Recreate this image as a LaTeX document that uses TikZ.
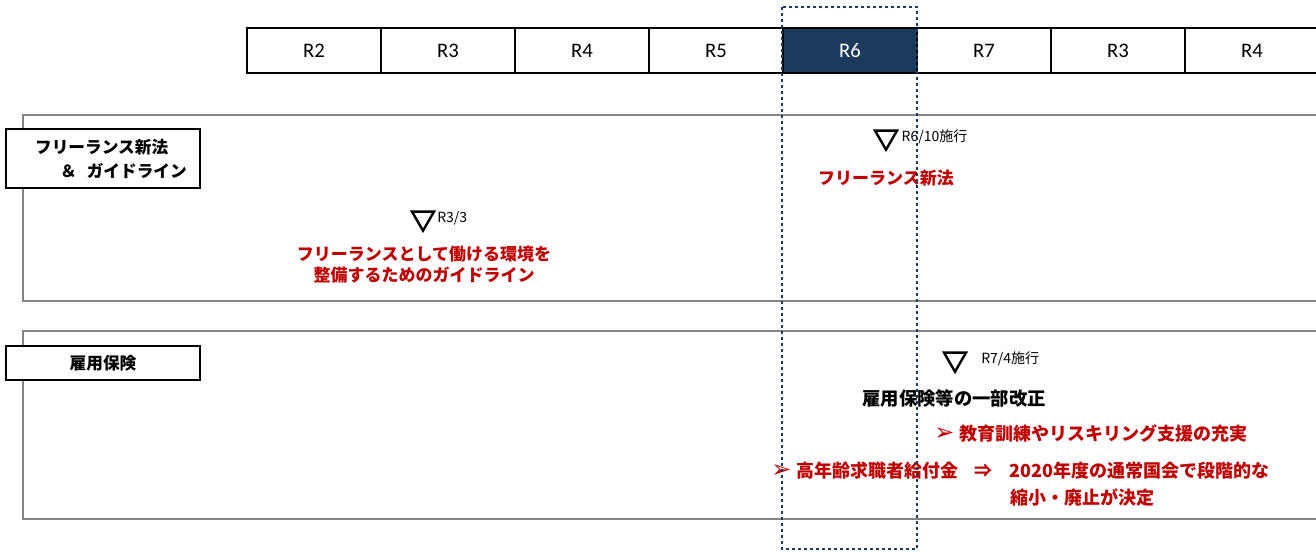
\documentclass[tikz,border=0pt]{standalone}
\usepackage{fontspec}
\setmainfont{Noto Sans CJK JP}
\newfontfamily\yearfont{Carlito}
\newfontfamily\markfont{DejaVu Sans}
\usetikzlibrary{
    shapes.geometric,
    positioning
}
\definecolor{navy}{HTML}{1B3A5C}
\definecolor{notered}{HTML}{C00000}
\definecolor{framegray}{HTML}{858585}
\tikzset{
    yearbox/.style = {
        rectangle,
        draw,
        line width=2pt,
        minimum width=100.5pt,
        minimum height=33.75pt,
        inner sep=0pt,
        font=\yearfont\fontsize{15.5}{18}\selectfont
    },
    nowbox/.style = {
        yearbox,
        fill=navy,
        text=white
    },
    sectionframe/.style = {
        draw=framegray,
        line width=2.2pt
    },
    labelbox/.style = {
        rectangle,
        draw,
        fill=white,
        line width=1.2pt,
        minimum width=145.5pt,
        inner sep=0pt,
        font=\bfseries\fontsize{12.5}{18}\selectfont
    },
    milestone/.style = {
        regular polygon,
        regular polygon sides=3,
        shape border rotate=180,
        draw,
        line width=1.8pt,
        minimum size=19pt,
        inner sep=0pt
    },
    datelabel/.style = {
        font=\fontsize{10.5}{12}\selectfont,
        inner sep=1pt
    },
    rednote/.style = {
        text=notered,
        inner sep=0pt,
        align=center,
        font=\bfseries\fontsize{12.75}{15.75}\selectfont
    },
    bignote/.style = {
        rednote,
        font=\bfseries\fontsize{13.5}{20}\selectfont
    },
    focusframe/.style = {
        draw=navy,
        line width=1.8pt,
        dash pattern=on 2.2pt off 2.3pt
    }
}
\newcommand{\pointer}{{\markfont\mdseries\fontsize{18}{18}\selectfont ➢}}

\begin{document}
\begin{tikzpicture}[x=0.75pt, y=-0.75pt]
\useasboundingbox (0,0) rectangle (1316,551);

% fiscal years
\foreach \yr/\sty [count=\i] in {R2/yearbox, R3/yearbox, R4/yearbox, R5/yearbox,
    R6/nowbox, R7/yearbox, R3/yearbox, R4/yearbox}
    \node[\sty] (year\i) at ({180+134*\i},50.5) {\yr};

% section frames
\draw[sectionframe] (1330,115) -- (23,115) -- (23,301) -- (1330,301);
\draw[sectionframe] (1330,331) -- (23,331) -- (23,519) -- (1330,519);

\node[labelbox, minimum height=44.25pt, align=left] (lawlabel) at (103,158.5)
    {\hspace*{12pt}フリーランス新法\\\hspace*{12pt}\hspace*{1.5em}＆\hspace*{0.6em}ガイドライン};
\node[labelbox, minimum height=25.5pt] (insurelabel) at (103,363) {雇用保険};

% freelance law
\node[milestone] (mark1) at (886,137) {};
\node[datelabel, right=4pt of mark1.east] (date1) {R6/10施行};
\node[rednote] (law) at (886,178) {フリーランス新法};

\node[milestone] (mark2) at (423,218) {};
\node[datelabel, right=3pt of mark2.east] (date2) {R3/3};
\node[rednote] (guide) at (424,265)
    {フリーランスとして働ける環境を\\整備するためのガイドライン};

% employment insurance
\node[milestone] (mark3) at (955,359) {};
\node[datelabel, right=12pt of mark3.east] (date3) {R7/4施行};
\node[font=\bfseries\fontsize{13.75}{16}\selectfont, inner sep=0pt] (reform) at (954,398)
    {雇用保険等の一部改正};
\node[bignote, anchor=west] (training) at (934,433)
    {\pointer\hspace{0.3em}教育訓練やリスキリング支援の充実};
\node[bignote, anchor=west] (elder) at (771,471)
    {\pointer\hspace{0.3em}高年齢求職者給付金\hspace{0.9em}⇒\hspace{0.9em}2020年度の通常国会で段階的な};
\node[bignote, anchor=west] (abolish) at (1010,498) {縮小・廃止が決定};

% current year
\draw[focusframe] (782,7) rectangle (917,549);
\end{tikzpicture}
\end{document}
